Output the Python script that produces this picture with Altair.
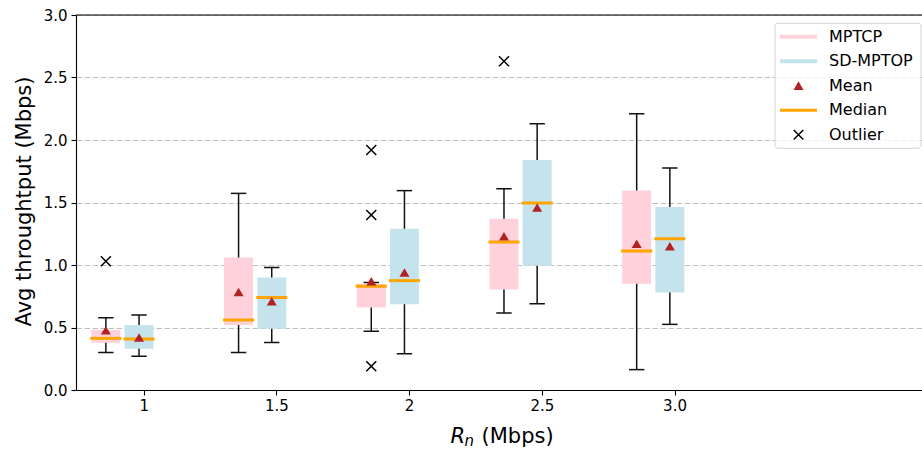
import json
import altair as alt
import pandas as pd

# ---------------- data ----------------
groups = ["1", "1.5", "2", "2.5", "3.0"]
series = ["MPTCP", "SD-MPTOP"]

mptcp_lo = [0.30, 0.30, 0.47, 0.616, 0.163]
mptcp_q1 = [0.378, 0.52, 0.66, 0.805, 0.85]
mptcp_med = [0.413, 0.56, 0.83, 1.184, 1.112]
mptcp_q3 = [0.48, 1.06, 0.85, 1.37, 1.597]
mptcp_hi = [0.578, 1.573, 0.86, 1.61, 2.21]
mptcp_mean = [0.478, 0.784, 0.87, 1.23, 1.17]

sd_lo = [0.27, 0.38, 0.29, 0.69, 0.525]
sd_q1 = [0.33, 0.49, 0.686, 0.995, 0.78]
sd_med = [0.408, 0.74, 0.875, 1.496, 1.21]
sd_q3 = [0.52, 0.90, 1.29, 1.84, 1.464]
sd_hi = [0.60, 0.98, 1.595, 2.13, 1.776]
sd_mean = [0.42, 0.71, 0.94, 1.46, 1.15]

outlier_group = [0, 2, 2, 2, 3]
outlier_value = [1.03, 1.92, 1.40, 0.19, 2.63]

y_ticks = [0.0, 0.5, 1.0, 1.5, 2.0, 2.5, 3.0]

# ---------------- styling ----------------
PINK = "#FFD1DA"
BLUE = "#C5E3EC"
ORANGE = "#FFA500"
MEAN_C = "#B22222"
offsets = {"MPTCP": -0.285, "SD-MPTOP": -0.035}
BOX_HALF = 0.109
MED_HALF = 0.117
CAP_HALF = 0.058
W, H = 846, 375

rows = []
for s, arrs in (("MPTCP", (mptcp_lo, mptcp_q1, mptcp_med, mptcp_q3, mptcp_hi, mptcp_mean)),
                ("SD-MPTOP", (sd_lo, sd_q1, sd_med, sd_q3, sd_hi, sd_mean))):
    lo, q1, med, q3, hi, mean = arrs
    for i, g in enumerate(groups):
        c = i + offsets[s]
        rows.append(dict(series=s, group=g, pos=c,
                         left=c - BOX_HALF, right=c + BOX_HALF,
                         medL=c - MED_HALF, medR=c + MED_HALF,
                         capL=c - CAP_HALF, capR=c + CAP_HALF,
                         lo=lo[i], q1=q1[i], med=med[i], q3=q3[i], hi=hi[i], mean=mean[i]))
df = pd.DataFrame(rows)

out_df = pd.DataFrame({"pos": [g + offsets["MPTCP"] for g in outlier_group],
                       "value": outlier_value})

xscale = alt.Scale(domain=[-0.51, 5.865], nice=False, zero=False)
yscale = alt.Scale(domain=[0, 3], nice=False, zero=False)
label_expr = json.dumps(groups) + "[datum.value]"
xaxis = alt.Axis(values=list(range(len(groups))), labelExpr=label_expr, title=None,
                 grid=False, tickSize=5, tickColor="black", domainColor="black",
                 domainWidth=1.1, tickWidth=1.1, labelFontSize=15, labelColor="black",
                 labelPadding=3, labelFont="DejaVu Sans")
yaxis = alt.Axis(values=y_ticks, format=".1f", title="Avg throughtput (Mbps)",
                 grid=True, gridDash=[5.5, 2.5], gridColor="#bdbdbd", gridWidth=1.2,
                 tickSize=5, tickColor="black", domainColor="black", domainWidth=1.1,
                 tickWidth=1.1, labelFontSize=15, labelColor="black", labelPadding=4,
                 labelFont="DejaVu Sans", titleFontSize=21, titleFontWeight="normal",
                 titleFont="DejaVu Sans", titleColor="black", titleAngle=-90,
                 titleX=-45.5, titleY=186, titleBaseline="alphabetic", titleAlign="center")

color = alt.Color("series:N", scale=alt.Scale(domain=series, range=[PINK, BLUE]), legend=None)

base = alt.Chart(df)

whisk = base.mark_rule(color="#111111", strokeWidth=1.5).encode(
    x=alt.X("pos:Q", scale=xscale, axis=xaxis),
    y=alt.Y("lo:Q", scale=yscale, axis=yaxis),
    y2="hi:Q")
cap_hi = base.mark_rule(color="#111111", strokeWidth=1.5).encode(
    x=alt.X("capL:Q", scale=xscale, axis=xaxis), x2="capR:Q",
    y=alt.Y("hi:Q", scale=yscale, axis=yaxis))
cap_lo = base.mark_rule(color="#111111", strokeWidth=1.5).encode(
    x=alt.X("capL:Q", scale=xscale, axis=xaxis), x2="capR:Q",
    y=alt.Y("lo:Q", scale=yscale, axis=yaxis))
box = base.mark_rect().encode(
    x=alt.X("left:Q", scale=xscale, axis=xaxis), x2="right:Q",
    y=alt.Y("q1:Q", scale=yscale, axis=yaxis), y2="q3:Q",
    color=color)
median = base.mark_rule(color=ORANGE, strokeWidth=3).encode(
    x=alt.X("medL:Q", scale=xscale, axis=xaxis), x2="medR:Q",
    y=alt.Y("med:Q", scale=yscale, axis=yaxis))
mean = base.mark_point(shape="triangle-up", filled=True, size=100, color=MEAN_C, opacity=1).encode(
    x=alt.X("pos:Q", scale=xscale, axis=xaxis),
    y=alt.Y("mean:Q", scale=yscale, axis=yaxis))
XPATH = "M-1,-1L1,1M-1,1L1,-1"
outl = alt.Chart(out_df).mark_point(shape=XPATH, filled=False, size=100, color="black",
                                    strokeWidth=1.5, opacity=1).encode(
    x=alt.X("pos:Q", scale=xscale, axis=xaxis),
    y=alt.Y("value:Q", scale=yscale, axis=yaxis))

one = pd.DataFrame({"k": [0]})
top_spine = alt.Chart(one).mark_rule(color="black", strokeWidth=1.1).encode(
    x=alt.value(0), x2=alt.value(W), y=alt.value(0))

# x-axis title: R_n (Mbps)
xt_R = alt.Chart(one).mark_text(text="R", font="DejaVu Sans", fontSize=21, fontStyle="italic",
                                align="left", baseline="alphabetic", color="black").encode(
    x=alt.value(374.5), y=alt.value(427.7))
xt_n = alt.Chart(one).mark_text(text="n", font="DejaVu Sans", fontSize=15, fontStyle="italic",
                                align="left", baseline="alphabetic", color="black").encode(
    x=alt.value(388.5), y=alt.value(430.5))
xt_m = alt.Chart(one).mark_text(text="(Mbps)", font="DejaVu Sans", fontSize=21,
                                align="left", baseline="alphabetic", color="black").encode(
    x=alt.value(405.5), y=alt.value(427.7))

# legend (decoration)
leg_box = alt.Chart(one).mark_rect(fill="white", fillOpacity=0.8, stroke="#d3d3d3",
                                   strokeWidth=1, cornerRadius=3).encode(
    x=alt.value(699), x2=alt.value(845), y=alt.value(8.3), y2=alt.value(133.3))
leg_labels = ["MPTCP", "SD-MPTOP", "Mean", "Median", "Outlier"]
leg_y = [21.7, 46.2, 70.7, 95.2, 119.7]
leg_layers = [leg_box]
for lab, yy in zip(leg_labels, leg_y):
    if lab in ("MPTCP", "SD-MPTOP", "Median"):
        col = {"MPTCP": PINK, "SD-MPTOP": BLUE, "Median": ORANGE}[lab]
        sw = 3 if lab == "Median" else 4
        leg_layers.append(alt.Chart(one).mark_rule(color=col, strokeWidth=sw).encode(
            x=alt.value(704), x2=alt.value(741), y=alt.value(yy)))
    elif lab == "Mean":
        leg_layers.append(alt.Chart(one).mark_point(shape="triangle-up", filled=True, size=100,
                                                    color=MEAN_C, opacity=1).encode(
            x=alt.value(722.5), y=alt.value(yy)))
    else:
        leg_layers.append(alt.Chart(one).mark_point(shape=XPATH, filled=False, size=90,
                                                    color="black", strokeWidth=1.5, opacity=1).encode(
            x=alt.value(722.5), y=alt.value(yy)))
    leg_layers.append(alt.Chart(one).mark_text(text=lab, font="DejaVu Sans", fontSize=16,
                                               align="left", baseline="middle", color="black").encode(
        x=alt.value(753), y=alt.value(yy)))

chart = alt.layer(whisk, cap_hi, cap_lo, box, median, mean, outl, top_spine,
                  xt_R, xt_n, xt_m, *leg_layers).properties(
    width=W, height=H,
    autosize=alt.AutoSizeParams(type="none"),
    padding={"left": 76, "top": 15, "right": 0, "bottom": 63},
    background="white",
).configure_view(strokeWidth=0).configure(font="DejaVu Sans")

chart.save("out.html", embed_options={"renderer": "svg", "actions": False})
